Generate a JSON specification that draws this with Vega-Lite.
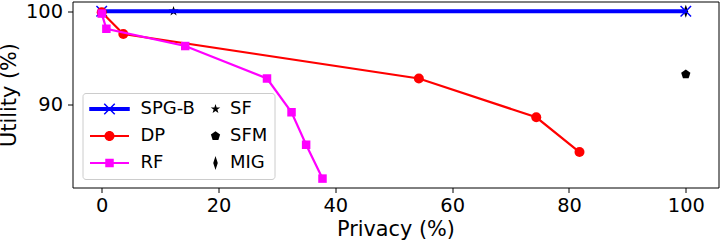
{
  "$schema": "https://vega.github.io/schema/vega-lite/v6.json",
  "width": 646,
  "height": 186,
  "autosize": {"type": "none"},
  "padding": {"left": 72.5, "top": 1.5, "right": 1.5, "bottom": 54.5},
  "config": {
    "font": "DejaVu Sans",
    "view": {"stroke": "black", "strokeWidth": 1},
    "axis": {"grid": false, "domain": false, "tickColor": "black", "tickSize": 5, "tickWidth": 1, "labelColor": "black", "titleColor": "black", "labelFontSize": 19.4, "titleFontSize": 20.8, "titleFontWeight": "normal", "labelFont": "DejaVu Sans", "titleFont": "DejaVu Sans"}
  },
  "data": {
    "values": [
      {"method": "SF", "privacy": 12.3, "utility": 100},
      {"method": "SFM", "privacy": 100, "utility": 93.2},
      {"method": "MIG", "privacy": 100, "utility": 100},
      {"method": "SPG-B", "privacy": 0, "utility": 100},
      {"method": "SPG-B", "privacy": 100, "utility": 100},
      {"method": "DP", "privacy": 0, "utility": 99.9},
      {"method": "DP", "privacy": 3.7, "utility": 97.55},
      {"method": "DP", "privacy": 54.3, "utility": 92.75},
      {"method": "DP", "privacy": 74.4, "utility": 88.57},
      {"method": "DP", "privacy": 81.8, "utility": 84.82},
      {"method": "RF", "privacy": 0, "utility": 99.75},
      {"method": "RF", "privacy": 0.8, "utility": 98.11},
      {"method": "RF", "privacy": 14.3, "utility": 96.25},
      {"method": "RF", "privacy": 28.3, "utility": 92.75},
      {"method": "RF", "privacy": 32.5, "utility": 89.11},
      {"method": "RF", "privacy": 35.0, "utility": 85.61},
      {"method": "RF", "privacy": 37.8, "utility": 81.96}
    ]
  },
  "encoding": {
    "x": {"field": "privacy", "type": "quantitative", "scale": {"domain": [-5.0, 105.6], "nice": false, "zero": false},
      "axis": {"values": [0, 20, 40, 60, 80, 100], "format": "d", "title": "Privacy (%)", "labelBaseline": "alphabetic", "labelPadding": 18.8, "titleBaseline": "alphabetic", "titleY": 47.5}},
    "y": {"field": "utility", "type": "quantitative", "scale": {"domain": [81.0, 101.05], "nice": false, "zero": false},
      "axis": {"values": [90, 100], "format": "d", "title": "Utility (%)", "labelPadding": 5, "titleBaseline": "alphabetic", "titleX": -57, "titleY": 93, "titleAngle": -90}},
    "color": {"field": "method", "type": "nominal",
      "scale": {"domain": ["SPG-B", "DP", "RF", "SF", "SFM", "MIG"], "range": ["#0000ff", "#ff0000", "#ff00ff", "#000000", "#000000", "#000000"]},
      "legend": {
        "title": null, "orient": "none", "legendX": 10, "legendY": 91.5, "columns": 2, "direction": "vertical", "columnPadding": 15, "rowPadding": 9, "padding": 7,
        "strokeColor": "#cccccc", "fillColor": "rgba(255,255,255,0.8)", "cornerRadius": 3,
        "labelFontSize": 18, "labelFont": "DejaVu Sans", "labelColor": "black", "symbolSize": 100,
        "encode": {
          "symbols": {"update": {
            "shape": {"signal": "datum.value === 'SPG-B' ? 'M-3.9,-0.25L3.9,-0.25L3.9,0.25L-3.9,0.25ZM-1.05,-1.05L1.05,1.05M-1.05,1.05L1.05,-1.05' : datum.value === 'DP' ? 'M-3.9,-0.22L3.9,-0.22L3.9,0.22L-3.9,0.22ZM-1,0A1,1 0 1,1 1,0A1,1 0 1,1 -1,0Z' : datum.value === 'RF' ? 'M-3.9,-0.22L3.9,-0.22L3.9,0.22L-3.9,0.22ZM-0.85,-0.85L0.85,-0.85L0.85,0.85L-0.85,0.85Z' : datum.value === 'SF' ? 'M0,-1L0.225,-0.309L0.951,-0.309L0.363,0.118L0.588,0.809L0,0.382L-0.588,0.809L-0.363,0.118L-0.951,-0.309L-0.225,-0.309Z' : datum.value === 'SFM' ? 'M0,-0.97L0.922,-0.3L0.57,0.785L-0.57,0.785L-0.922,-0.3Z' : 'M0,-1.4L0.45,0L0,1.4L-0.45,0Z'"},
            "size": {"value": 100},
            "fill": {"signal": "scale('color', datum.value)"},
            "stroke": {"signal": "scale('color', datum.value)"},
            "strokeWidth": {"signal": "datum.value === 'SPG-B' ? 1.5 : 0"},
            "opacity": {"value": 1},
            "x": {"signal": "indexof(['SF','SFM','MIG'], datum.value) >= 0 ? 5 : 20"}
          }},
          "labels": {"update": {
            "x": {"signal": "indexof(['SF','SFM','MIG'], datum.value) >= 0 ? 19.5 : 51"}
          }}
        }
      }
    }
  },
  "layer": [
    {
      "transform": [{"filter": {"field": "method", "equal": "SF"}}],
      "mark": {"type": "point", "filled": true, "size": 110, "opacity": 1, "shape": "M0,-1L0.225,-0.309L0.951,-0.309L0.363,0.118L0.588,0.809L0,0.382L-0.588,0.809L-0.363,0.118L-0.951,-0.309L-0.225,-0.309Z"}
    },
    {
      "transform": [{"filter": {"field": "method", "equal": "SFM"}}],
      "mark": {"type": "point", "filled": true, "size": 100, "opacity": 1, "shape": "M0,-0.97L0.922,-0.3L0.57,0.785L-0.57,0.785L-0.922,-0.3Z"}
    },
    {
      "transform": [{"filter": {"field": "method", "equal": "MIG"}}],
      "mark": {"type": "point", "filled": true, "size": 100, "opacity": 1, "shape": "M0,-1.3L0.45,0L0,1.3L-0.45,0Z"}
    },
    {
      "transform": [{"filter": {"field": "method", "equal": "SPG-B"}}],
      "mark": {"type": "line", "strokeWidth": 4}
    },
    {
      "transform": [{"filter": {"field": "method", "equal": "SPG-B"}}],
      "mark": {"type": "point", "filled": false, "size": 100, "strokeWidth": 1.5, "opacity": 1, "shape": "M-1.05,-1.05L1.05,1.05M-1.05,1.05L1.05,-1.05"}
    },
    {
      "transform": [{"filter": {"field": "method", "equal": "DP"}}],
      "mark": {"type": "line", "strokeWidth": 2.2}
    },
    {
      "transform": [{"filter": {"field": "method", "equal": "DP"}}],
      "mark": {"type": "point", "filled": true, "size": 100, "opacity": 1, "shape": "circle"}
    },
    {
      "transform": [{"filter": {"field": "method", "equal": "RF"}}],
      "mark": {"type": "line", "strokeWidth": 2.2}
    },
    {
      "transform": [{"filter": {"field": "method", "equal": "RF"}}],
      "mark": {"type": "point", "filled": true, "size": 100, "opacity": 1, "shape": "M-0.85,-0.85L0.85,-0.85L0.85,0.85L-0.85,0.85Z"}
    }
  ]
}
